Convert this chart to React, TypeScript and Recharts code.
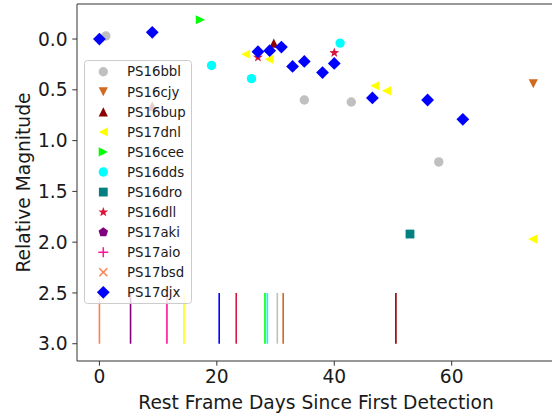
import React from "react"
import { ScatterChart, Scatter, XAxis, YAxis, ReferenceLine, Legend } from "recharts"

// light-curve points (days since first detection, relative mag)
const bblDays = [1.1, 34.9, 42.9, 57.8]
const bblMags = [-0.03, 0.6, 0.62, 1.21]
const cjyDays = [73.9]
const cjyMags = [0.44]
const bupDays = [9.0, 29.7]
const bupMags = [0.66, 0.04]
const dnlDays = [24.9, 28.9, 46.9, 48.9, 73.8]
const dnlMags = [0.15, 0.2, 0.46, 0.51, 1.97]
const ceeDays = [17.2]
const ceeMags = [-0.19]
const ddsDays = [19.1, 25.9, 41.0]
const ddsMags = [0.26, 0.39, 0.04]
const droDays = [52.9]
const droMags = [1.92]
const dllDays = [27.0, 40.0]
const dllMags = [0.18, 0.135]
const djxDays = [0.0, 9.0, 27.0, 29.0, 31.0, 32.9, 34.9, 38.0, 40.0, 46.5, 55.9, 61.9]
const djxMags = [0.0, -0.066, 0.125, 0.115, 0.079, 0.27, 0.22, 0.33, 0.24, 0.58, 0.6, 0.79]

// short vertical ticks near the bottom
const markNames = ["PS17bsd", "PS17aki", "PS17aio", "PS17dnl", "PS17djx", "PS16dll", "PS16cee", "PS16dds", "PS16bbl", "PS16cjy", "PS16bup"]
const markDays = [0.0, 5.3, 11.5, 14.4, 20.4, 23.3, 28.2, 28.6, 30.3, 31.3, 50.5]
const markTop = 2.5
const markBottom = 3.0

const xTicks = [0, 20, 40, 60]
const yTicks = [0, 0.5, 1, 1.5, 2, 2.5, 3]

type Kind = "circle" | "down" | "up" | "left" | "right" | "square" | "star" | "pentagon" | "plus" | "cross" | "diamond"

const series: { name: string; color: string; kind: Kind; days: number[]; mags: number[] }[] = [
  { name: "PS16bbl", color: "#C0C0C0", kind: "circle", days: bblDays, mags: bblMags },
  { name: "PS16cjy", color: "#D2691E", kind: "down", days: cjyDays, mags: cjyMags },
  { name: "PS16bup", color: "#8B0000", kind: "up", days: bupDays, mags: bupMags },
  { name: "PS17dnl", color: "#FFFF00", kind: "left", days: dnlDays, mags: dnlMags },
  { name: "PS16cee", color: "#00FF00", kind: "right", days: ceeDays, mags: ceeMags },
  { name: "PS16dds", color: "#00FFFF", kind: "circle", days: ddsDays, mags: ddsMags },
  { name: "PS16dro", color: "#008080", kind: "square", days: droDays, mags: droMags },
  { name: "PS16dll", color: "#DC143C", kind: "star", days: dllDays, mags: dllMags },
  { name: "PS17aki", color: "#800080", kind: "pentagon", days: [], mags: [] },
  { name: "PS17aio", color: "#FF1493", kind: "plus", days: [], mags: [] },
  { name: "PS17bsd", color: "#FF7F50", kind: "cross", days: [], mags: [] },
  { name: "PS17djx", color: "#0000FF", kind: "diamond", days: djxDays, mags: djxMags },
]

const FONT = "DejaVu Sans"
const BIG = 18.67

const Marker = ({ kind, cx, cy, color }: { kind: Kind; cx: number; cy: number; color: string }) => {
  const h = 4.6
  switch (kind) {
    case "circle":
      return <circle cx={cx} cy={cy} r={4.7} fill={color} />
    case "down":
      return <polygon points={`${cx - h},${cy - h} ${cx + h},${cy - h} ${cx},${cy + h}`} fill={color} />
    case "up":
      return <polygon points={`${cx - h},${cy + h} ${cx + h},${cy + h} ${cx},${cy - h}`} fill={color} />
    case "left":
      return <polygon points={`${cx - h},${cy} ${cx + h},${cy - h} ${cx + h},${cy + h}`} fill={color} />
    case "right":
      return <polygon points={`${cx + h},${cy} ${cx - h},${cy - h} ${cx - h},${cy + h}`} fill={color} />
    case "square":
      return <rect x={cx - 4.4} y={cy - 4.4} width={8.8} height={8.8} fill={color} />
    case "star": {
      const pts: string[] = []
      for (let i = 0; i < 10; i++) {
        const r = i % 2 === 0 ? 5.2 : 2.1
        const a = -Math.PI / 2 + (i * Math.PI) / 5
        pts.push(`${cx + r * Math.cos(a)},${cy + r * Math.sin(a)}`)
      }
      return <polygon points={pts.join(" ")} fill={color} />
    }
    case "pentagon": {
      const pts: string[] = []
      for (let i = 0; i < 5; i++) {
        const a = -Math.PI / 2 + (i * 2 * Math.PI) / 5
        pts.push(`${cx + 5 * Math.cos(a)},${cy + 5 * Math.sin(a)}`)
      }
      return <polygon points={pts.join(" ")} fill={color} />
    }
    case "plus":
      return (
        <g stroke={color} strokeWidth={1.5}>
          <line x1={cx - 5} y1={cy} x2={cx + 5} y2={cy} />
          <line x1={cx} y1={cy - 5} x2={cx} y2={cy + 5} />
        </g>
      )
    case "cross":
      return (
        <g stroke={color} strokeWidth={1.5}>
          <line x1={cx - 4} y1={cy - 4} x2={cx + 4} y2={cy + 4} />
          <line x1={cx - 4} y1={cy + 4} x2={cx + 4} y2={cy - 4} />
        </g>
      )
    case "diamond":
      return <polygon points={`${cx},${cy - 6.4} ${cx + 6.4},${cy} ${cx},${cy + 6.4} ${cx - 6.4},${cy}`} fill={color} />
  }
  return null
}

const LegendBox = () => (
  <svg width={108} height={244} style={{ display: "block" }}>
    <rect x={0.5} y={0.5} width={107} height={243} rx={3} fill="#fff" fillOpacity={0.8} stroke="#cccccc" />
    {series.map((s, i) => {
      const cy = 11.7 + i * 20.06
      return (
        <g key={s.name}>
          <Marker kind={s.kind} cx={19.3} cy={cy} color={s.color} />
          <text x={43} y={cy} dy="0.36em" fontSize={13.3} fontFamily={FONT} fill="#1a1a1a">
            {s.name}
          </text>
        </g>
      )
    })}
  </svg>
)

export default function App() {
  const colorOf = (n: string) => series.find((s) => s.name === n)?.color ?? "#000"
  const tickStyle = { fontSize: BIG, fontFamily: FONT, fill: "#1a1a1a" }

  return (
    <div style={{ position: "fixed", left: 0, top: 0, width: 552, height: 413, overflow: "hidden", background: "#fff" }}>
      <ScatterChart width={555} height={413} margin={{ top: 4, right: 0, bottom: 0, left: 0 }} style={{ fontFamily: FONT }}>
        <XAxis
          type="number"
          dataKey="x"
          domain={[-3.82, 77.6]}
          ticks={xTicks}
          allowDataOverflow
          height={52}
          tickSize={4.7}
          tickMargin={4}
          tick={tickStyle}
          stroke="#333"
          label={{
            content: () => (
              <text x={316} y={409} textAnchor="middle" fontSize={BIG} fontFamily={FONT} fill="#1a1a1a">
                Rest Frame Days Since First Detection
              </text>
            ),
          }}
        />
        <YAxis
          type="number"
          dataKey="y"
          reversed
          domain={[-0.345, 3.17]}
          ticks={yTicks}
          allowDataOverflow
          width={77}
          tickSize={4.7}
          tickMargin={4.7}
          tick={tickStyle}
          tickFormatter={(v: number) => v.toFixed(1)}
          stroke="#333"
          label={{
            content: () => (
              <text
                x={23.3}
                y={182.5}
                transform="rotate(-90 23.3 182.5)"
                textAnchor="middle"
                dominantBaseline="central"
                fontSize={BIG}
                fontFamily={FONT}
                fill="#1a1a1a"
              >
                Relative Magnitude
              </text>
            ),
          }}
        />
        <ReferenceLine y={-0.345} stroke="#333" ifOverflow="visible" />
        {markDays.map((d, i) => (
          <ReferenceLine
            key={markNames[i]}
            segment={[
              { x: d, y: markTop },
              { x: d, y: markBottom },
            ]}
            stroke={colorOf(markNames[i])}
            strokeWidth={1.6}
            ifOverflow="visible"
          />
        ))}
        {series.map((s) => (
          <Scatter
            key={s.name}
            name={s.name}
            data={s.days.map((d, i) => ({ x: d, y: s.mags[i] }))}
            fill={s.color}
            isAnimationActive={false}
            shape={(p: any) => <Marker kind={s.kind} cx={p.cx} cy={p.cy} color={s.color} />}
          />
        ))}
        <Legend
          layout="vertical"
          align="center"
          verticalAlign="middle"
          wrapperStyle={{ left: 84, top: 60, width: 108, height: 244 }}
          content={() => <LegendBox />}
        />
      </ScatterChart>
    </div>
  )
}
